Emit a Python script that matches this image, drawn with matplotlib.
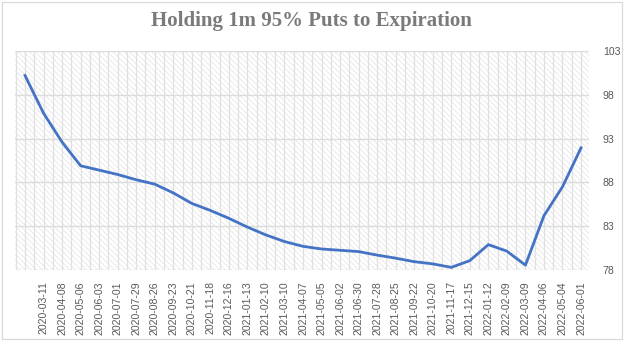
import matplotlib
matplotlib.use("Agg")
import matplotlib.pyplot as plt
from matplotlib.patches import Rectangle
import numpy as np

dates = ["2020-02-12", "2020-03-11", "2020-04-08", "2020-05-06", "2020-06-03", "2020-07-01",
         "2020-07-29", "2020-08-26", "2020-09-23", "2020-10-21", "2020-11-18", "2020-12-16",
         "2021-01-13", "2021-02-10", "2021-03-10", "2021-04-07", "2021-05-05", "2021-06-02",
         "2021-06-30", "2021-07-28", "2021-08-25", "2021-09-22", "2021-10-20", "2021-11-17",
         "2021-12-15", "2022-01-12", "2022-02-09", "2022-03-09", "2022-04-06", "2022-05-04",
         "2022-06-01"]
values = [100.2, 95.9, 92.6, 89.9, 89.4, 88.9, 88.3, 87.8, 86.8, 85.6, 84.8, 83.9,
          82.9, 82.0, 81.25, 80.7, 80.4, 80.25, 80.1, 79.7, 79.35, 78.95, 78.7, 78.3,
          79.07, 80.9, 80.15, 78.55, 84.2, 87.5, 91.95]
y_ticks = [78, 83, 88, 93, 98, 103]
title = "Holding 1m 95% Puts to Expiration"

plt.rcParams['hatch.linewidth'] = 0.5
plt.rcParams['hatch.color'] = '#e2e2e2'

W, H = 642, 345
fig = plt.figure(figsize=(W / 100, H / 100), dpi=100)
fig.patch.set_facecolor('white')

# chart border
fig.patches.append(Rectangle((2 / W, 1 - 339 / H), 620 / W, 337 / H, transform=fig.transFigure,
                             fill=False, edgecolor='#d9d9d9', linewidth=0.9))

left, right, top, bottom = 15, 589, 51, 270
ax = fig.add_axes([left / W, 1 - bottom / H, (right - left) / W, (bottom - top) / H])
ax.patch.set_facecolor('white')
ax.patch.set_hatch('\\\\\\\\\\\\')
ax.patch.set_edgecolor('#e2e2e2')
ax.patch.set_linewidth(0)

x = np.arange(len(values))
ax.set_xlim(-0.54, len(values) - 1 + 0.43)
ax.set_ylim(y_ticks[0], y_ticks[-1])

# grid lines
for gx in np.arange(-0.5, len(values), 0.5):
    ax.axvline(gx, color='#e0e0e0', lw=0.9, zorder=1)
for gy in y_ticks:
    ax.axhline(gy, color='#dcdcdc', lw=1.0, zorder=1)

ax.plot(x, values, color='#4472C4', lw=2.0, solid_joinstyle='round', zorder=3)

for s in ax.spines.values():
    s.set_visible(False)

ax.set_xticks(x[1:])
ax.set_xticklabels(dates[1:], rotation=90, fontsize=7.6, color='#595959',
                   family='Liberation Sans')
ax.tick_params(axis='x', length=0, pad=8)
ax.yaxis.tick_right()
ax.set_yticks(y_ticks)
ax.set_yticklabels([str(v) for v in y_ticks], fontsize=7.6, color='#595959',
                   family='Liberation Sans')
ax.tick_params(axis='y', length=0, pad=10)

fig.text(311 / W, 1 - 21 / H, title, ha='center', va='center', fontsize=15,
         fontweight='bold', color='#7a7a7a', family='Liberation Serif')

fig.savefig('out.png', dpi=100)
